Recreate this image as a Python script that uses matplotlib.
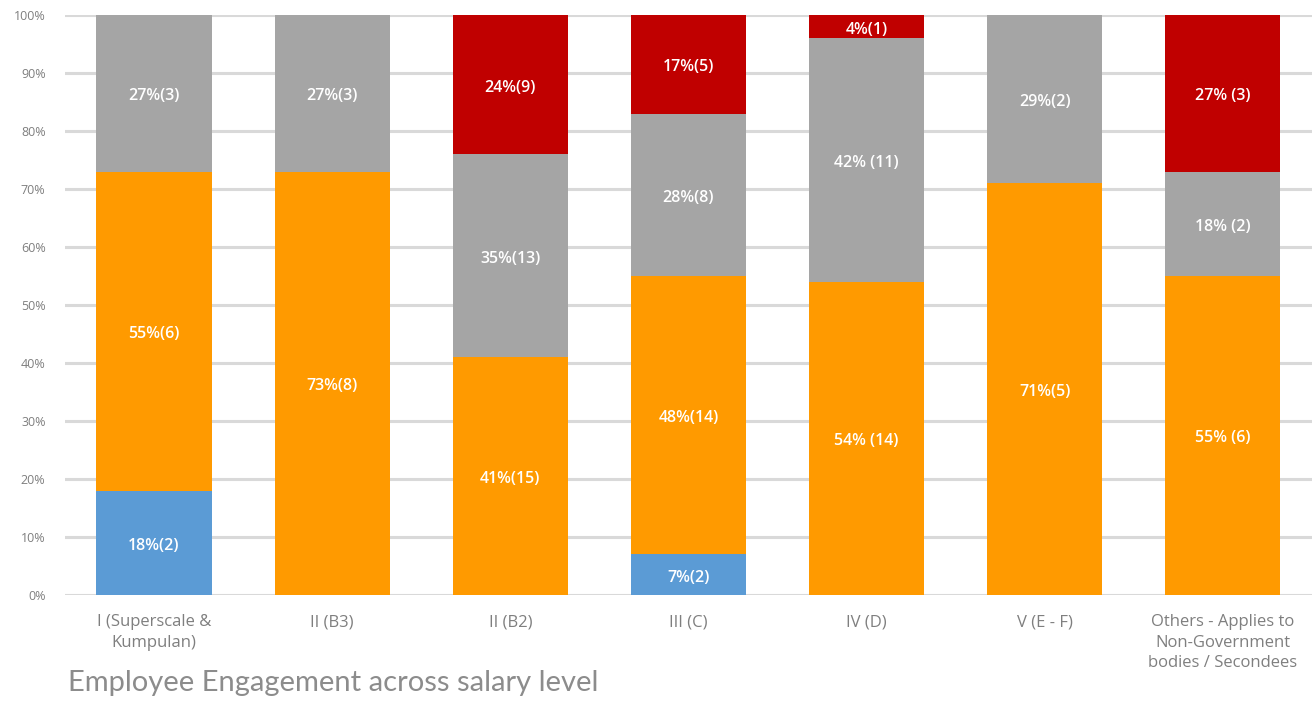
import matplotlib
matplotlib.use("Agg")

import matplotlib.pyplot as plt
import numpy as np

categories = [
    "I (Superscale &\nKumpulan)",
    "II (B3)",
    "II (B2)",
    "III (C)",
    "IV (D)",
    "V (E - F)",
    "Others - Applies to\nNon-Government\nbodies / Secondees",
]

# percentage of each group per salary level (bottom to top of stack)
blue_pct = [18, 0, 0, 7, 0, 0, 0]
orange_pct = [55, 73, 41, 48, 54, 71, 55]
gray_pct = [27, 27, 35, 28, 42, 29, 18]
red_pct = [0, 0, 24, 17, 4, 0, 27]

blue_labels = ["18%(2)", "", "", "7%(2)", "", "", ""]
orange_labels = ["55%(6)", "73%(8)", "41%(15)", "48%(14)", "54% (14)", "71%(5)", "55% (6)"]
gray_labels = ["27%(3)", "27%(3)", "35%(13)", "28%(8)", "42% (11)", "29%(2)", "18% (2)"]
red_labels = ["", "", "24%(9)", "17%(5)", "4%(1)", "", "27% (3)"]

series = [
    (blue_pct, blue_labels, "#5B9BD5"),
    (orange_pct, orange_labels, "#FF9A00"),
    (gray_pct, gray_labels, "#A5A5A5"),
    (red_pct, red_labels, "#C00000"),
]


def main() -> None:
    plt.rcParams["font.family"] = ["Open Sans", "DejaVu Sans"]
    fig = plt.figure(figsize=(13.15, 7.01), dpi=100)
    ax = fig.add_axes([0.0494, 0.1512, 0.9483, 0.8274])

    x = np.arange(len(categories))
    bottom = np.zeros(len(categories))
    for values, labels, color in series:
        vals = np.array(values, dtype=float)
        ax.bar(x, vals, width=0.646, bottom=bottom, color=color, zorder=3)
        for xi, b, v, lab in zip(x, bottom, vals, labels):
            if v > 0 and lab:
                ax.text(xi, b + v / 2 - 0.5, lab, ha="center", va="center",
                        color="white", fontsize=11.5, fontweight="semibold", zorder=4)
        bottom += vals

    ax.set_xlim(-0.5, len(categories) - 0.5)
    ax.set_ylim(0, 100)
    ax.set_yticks(range(0, 101, 10))
    ax.set_yticklabels([f"{t}%" for t in range(0, 101, 10)], fontsize=9, color="#7f7f7f")
    ax.set_xticks(x)
    ax.set_xticklabels(categories, fontsize=12, color="#7f7f7f", linespacing=1.35)
    ax.tick_params(axis="both", length=0)
    ax.tick_params(axis="y", pad=14)
    ax.tick_params(axis="x", pad=14)
    ax.yaxis.grid(True, color="#d9d9d9", linewidth=2.2, zorder=0)
    for side in ["top", "right", "left", "bottom"]:
        ax.spines[side].set_visible(False)

    fig.text(0.052, 0.014, "Employee Engagement across salary level",
             fontsize=21, color="#8c8c8c", va="baseline", family=["Lato", "DejaVu Sans"])

    fig.savefig("out.png", dpi=100)


if __name__ == "__main__":
    main()
